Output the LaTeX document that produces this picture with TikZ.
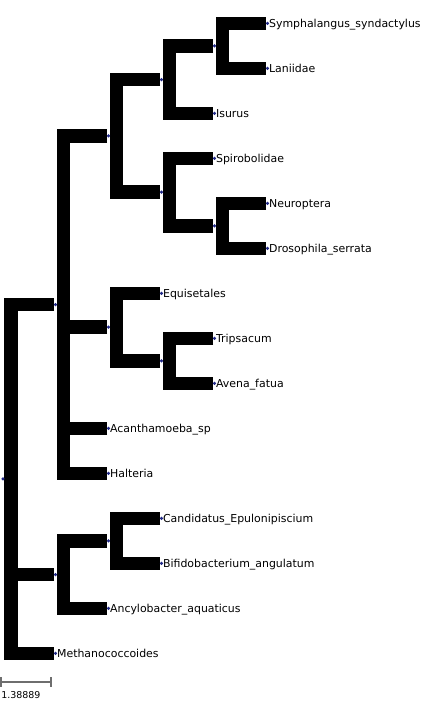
\documentclass[tikz,border=0pt]{standalone}
\usepackage{fontspec}
\setmainfont{DejaVu Sans}
\usetikzlibrary{calc}
\definecolor{dotblue}{RGB}{32,40,135}
\definecolor{bargray}{RGB}{110,110,110}
\tikzset{branch/.style={line width=10.1pt,shorten <=1.1pt,shorten >=1.1pt},
 taxon/.style={anchor=west,inner sep=1pt,text height=6pt,text depth=0pt,font=\fontsize{8.2}{9}\selectfont}}
\begin{document}
\begin{tikzpicture}[x=.75pt,y=-.75pt]
 \useasboundingbox (0,0) rectangle (423,727);
 % leaves
 \foreach \n/\x/\y/\t in {symph/267.5/23.3/Symphalangus\_syndactylus,lani/267.5/68.3/Laniidae,isur/214.5/113.3/Isurus,
   spiro/214.5/158.3/Spirobolidae,neuro/267.5/203.3/Neuroptera,droso/267.5/248.3/Drosophila\_serrata,
   equis/161.5/293.3/Equisetales,trips/214.5/338.3/Tripsacum,avena/214.5/383.3/Avena\_fatua,
   acanth/108.5/428.3/Acanthamoeba\_sp,halt/108.5/473.3/Halteria,cand/161.5/518.3/Candidatus\_Epulonipiscium,
   bifido/161.5/563.3/Bifidobacterium\_angulatum,ancylo/108.5/608.3/Ancylobacter\_aquaticus,methano/55.5/653.3/Methanococcoides}
   {\coordinate (\n) at (\x,\y); \node[taxon] (\n l) at (\n) {\t};}
 % inner nodes
 \foreach \n/\x/\y in {h/214.5/45.8,f/161.5/79.55,i/214.5/225.8,g/161.5/192.05,d/108.5/135.8,j/161.5/360.8,
   e/108.5/327.05,a/55.5/304.55,c/108.5/540.8,b/55.5/574.55,r/3/478.9}
   \coordinate (\n) at (\x,\y);
 \foreach \p/\c/\d in {h/symph/lani,f/h/isur,i/neuro/droso,g/spiro/i,d/f/g,j/trips/avena,e/equis/j,
   a/d/halt,c/cand/bifido,b/c/ancylo,r/a/methano}
   \draw[branch] (\c) -| ($(\p)+(8,0)$) |- (\d);
 \foreach \p/\c in {a/e,a/acanth,r/b} \draw[branch,shorten >=0pt] (\c) -| ($(\p)+(8,0)$);
 \foreach \n in {symph,lani,isur,spiro,neuro,droso,equis,trips,avena,acanth,halt,cand,bifido,ancylo,methano,
   h,f,i,g,d,j,e,a,c,b,r} \fill[dotblue] (\n) circle (1.3pt);
 % scale
 \draw[bargray,line width=1.2pt] (1,677)--(1,687) (1,682)--(51,682) (51,677)--(51,687);
 \node[anchor=base west,inner sep=0pt,font=\fontsize{7.1}{8}\selectfont] (scale) at (1,698) {1.38889};
\end{tikzpicture}
\end{document}
